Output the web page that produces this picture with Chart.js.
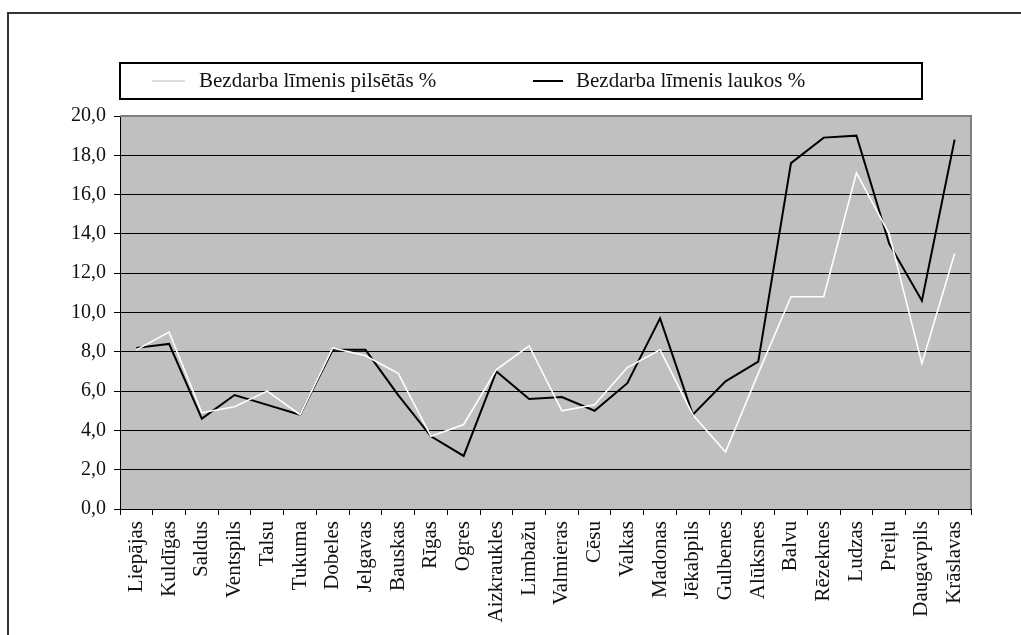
<!DOCTYPE html>
<html>
<head>
<meta charset="utf-8">
<script src="https://cdn.jsdelivr.net/npm/chart.js@4/dist/chart.umd.min.js"></script>
<style>
  html, body { margin: 0; padding: 0; background: #fff; }
  canvas { display: block; }
</style>
</head>
<body>
<canvas id="chart" width="1021" height="635"></canvas>
<script>
"use strict";

const districts = [
  "Liepājas", "Kuldīgas", "Saldus", "Ventspils", "Talsu", "Tukuma", "Dobeles",
  "Jelgavas", "Bauskas", "Rīgas", "Ogres", "Aizkraukles", "Limbažu", "Valmieras",
  "Cēsu", "Valkas", "Madonas", "Jēkabpils", "Gulbenes", "Alūksnes", "Balvu",
  "Rēzeknes", "Ludzas", "Preiļu", "Daugavpils", "Krāslavas",
];
const cityRate = [
  8.1, 9.0, 4.9, 5.2, 6.0, 4.8, 8.2, 7.8, 6.9, 3.7, 4.3, 7.1, 8.3,
  5.0, 5.3, 7.2, 8.1, 4.8, 2.9, 6.9, 10.8, 10.8, 17.1, 14.0, 7.4, 13.0,
];
const ruralRate = [
  8.2, 8.4, 4.6, 5.8, 5.3, 4.8, 8.1, 8.1, 5.8, 3.7, 2.7, 7.0, 5.6,
  5.7, 5.0, 6.4, 9.7, 4.8, 6.5, 7.5, 17.6, 18.9, 19.0, 13.5, 10.6, 18.8,
];
const seriesNames = ["Bezdarba līmenis pilsētās %", "Bezdarba līmenis laukos %"];
const yMin = 0, yMax = 20, yStep = 2;

const FONT = "'Liberation Serif', 'Times New Roman', serif";
const PLOT_BG = "#c0c0c0";

// frame, grey plot area and the boxed legend, drawn around Chart.js' own scales
const decor = {
  id: "decor",
  beforeDraw(chart) {
    const { ctx, chartArea: a } = chart;
    ctx.save();
    ctx.fillStyle = "#fff";
    ctx.fillRect(0, 0, chart.width, chart.height);
    ctx.strokeStyle = "#333";
    ctx.lineWidth = 2;
    ctx.strokeRect(8, 13, chart.width + 20, chart.height + 20);
    ctx.fillStyle = PLOT_BG;
    ctx.fillRect(a.left, a.top, a.right - a.left, a.bottom - a.top);
    ctx.restore();
  },
  afterDraw(chart) {
    const { ctx, chartArea: a } = chart;
    ctx.save();
    ctx.strokeStyle = "#808080";
    ctx.lineWidth = 2;
    ctx.beginPath();
    ctx.moveTo(a.left, a.top);
    ctx.lineTo(a.right, a.top);
    ctx.lineTo(a.right, a.bottom);
    ctx.stroke();

    // legend box
    ctx.strokeStyle = "#000";
    ctx.fillStyle = "#fff";
    ctx.fillRect(120, 63, 802, 36);
    ctx.strokeRect(120, 63, 802, 36);
    const entries = [
      { x0: 152, x1: 185, tx: 199, color: "#d0d0d0", width: 1.5 },
      { x0: 533, x1: 563, tx: 576, color: "#000", width: 2 },
    ];
    ctx.font = "21px " + FONT;
    ctx.textBaseline = "middle";
    chart.data.datasets.forEach((ds, i) => {
      const e = entries[i];
      ctx.strokeStyle = e.color;
      ctx.lineWidth = e.width;
      ctx.beginPath();
      ctx.moveTo(e.x0, 81);
      ctx.lineTo(e.x1, 81);
      ctx.stroke();
      ctx.fillStyle = "#111";
      ctx.fillText(ds.label, e.tx, 81);
    });
    ctx.restore();
  },
};

function fmtTick(v) {
  return Number(v).toFixed(1).replace(".", ",");
}

new Chart(document.getElementById("chart"), {
  type: "line",
  data: {
    labels: districts,
    datasets: [
      { label: seriesNames[0], data: cityRate, borderColor: "#fff", borderWidth: 1.6,
        pointRadius: 0, tension: 0, fill: false },
      { label: seriesNames[1], data: ruralRate, borderColor: "#000", borderWidth: 2,
        pointRadius: 0, tension: 0, fill: false },
    ],
  },
  options: {
    responsive: false,
    animation: false,
    layout: { padding: { left: 0, top: 116, right: 50, bottom: 0 } },
    plugins: { legend: { display: false }, tooltip: { enabled: false } },
    scales: {
      x: {
        offset: true,
        grid: { offset: true, drawOnChartArea: false, color: "#000", tickLength: 6 },
        border: { color: "#000", width: 1 },
        ticks: { color: "#111", font: { family: FONT, size: 21 }, minRotation: 90,
          maxRotation: 90, autoSkip: false, padding: 6 },
        afterFit(s) { s.height = 126; },
      },
      y: {
        min: yMin, max: yMax,
        grid: { color: "#000", lineWidth: 1, tickLength: 6 },
        border: { color: "#000", width: 1 },
        ticks: { stepSize: yStep, color: "#111", font: { family: FONT, size: 20 },
          padding: 8, callback: fmtTick },
        afterFit(s) { s.width = 120; },
      },
    },
  },
  plugins: [decor],
});
</script>
</body>
</html>
